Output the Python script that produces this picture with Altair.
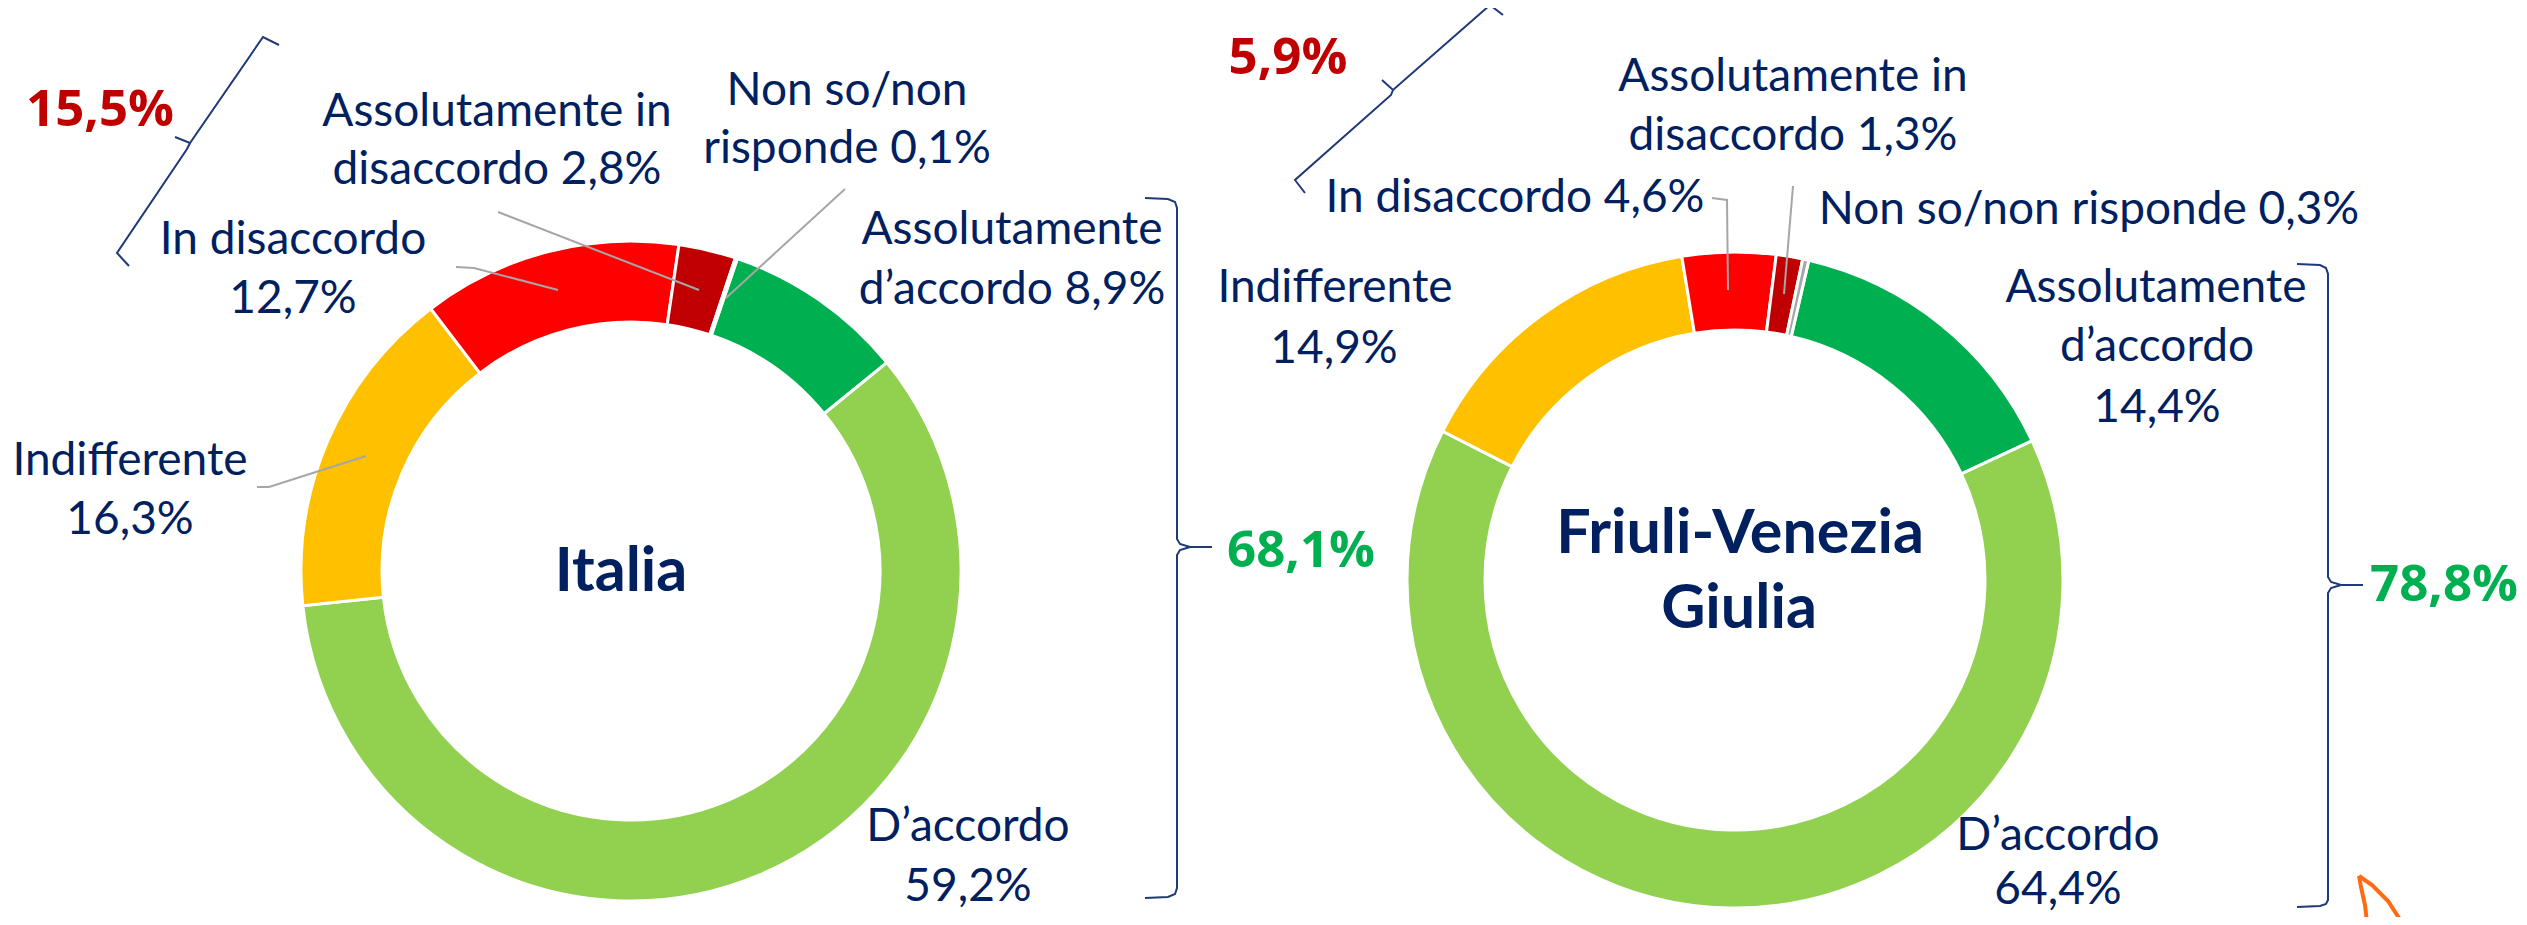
import math
import altair as alt
import pandas as pd

# ---------------- data ----------------
categories = ["Assolutamente d’accordo", "D’accordo", "Indifferente",
              "In disaccordo", "Assolutamente in disaccordo", "Non so/non risponde"]
italia_values = [8.9, 59.2, 16.3, 12.7, 2.8, 0.1]
friuli_values = [14.4, 64.4, 14.9, 4.6, 1.3, 0.3]
region_names = ["Italia", "Friuli-Venezia Giulia"]

# ---------------- styles ----------------
slice_colors = ["#00B050", "#92D050", "#FFC000", "#FF0000", "#C00000", "#A6A6A6"]
NAVY = "#002060"
RED = "#C00000"
GREEN = "#00B050"
BRACE = "#1F3A78"
LEADER = "#A6A6A6"

W, H = 2511, 909
xs = alt.Scale(domain=[8, 8 + W])
ys = alt.Scale(domain=[8, 8 + H], reverse=True)


def pct(v):
    return f"{v:.1f}".replace(".", ",") + "%"


def donut(values, start_deg, cx, cy, r_out, r_in):
    df = pd.DataFrame({"cat": categories, "v": values, "ord": list(range(len(values)))})
    a0 = math.radians(start_deg)
    return alt.Chart(df).mark_arc(
        outerRadius=r_out, innerRadius=r_in, stroke="white", strokeWidth=3
    ).encode(
        theta=alt.Theta("v:Q", stack=True,
                        scale=alt.Scale(domain=[0, sum(values)], range=[a0, a0 + 2 * math.pi], nice=False)),
        order=alt.Order("ord:Q"),
        color=alt.Color("cat:N", scale=alt.Scale(domain=categories, range=slice_colors), legend=None),
        x=alt.value(cx - 8),
        y=alt.value(cy - 8),
    )


it = italia_values
fr = friuli_values

# slice labels: (text, x-center, baseline)
label_rows = [
    ("Assolutamente in", 497, 126), ("disaccordo " + pct(it[4]), 497, 184),
    ("Non so/non", 847, 105), ("risponde " + pct(it[5]), 847, 163),
    ("In disaccordo", 293, 254), (pct(it[3]), 293, 313),
    ("Assolutamente", 1012, 244), ("d’accordo " + pct(it[0]), 1012, 304),
    ("Indifferente", 130, 475), (pct(it[2]), 130, 534),
    ("D’accordo", 968, 841), (pct(it[1]), 968, 901),
    ("Assolutamente in", 1793, 91), ("disaccordo " + pct(fr[4]), 1793, 150),
    ("In disaccordo " + pct(fr[3]), 1515, 212),
    ("Non so/non risponde " + pct(fr[5]), 2089, 224),
    ("Indifferente", 1335, 302), (pct(fr[2]), 1334, 363),
    ("Assolutamente", 2156, 302), ("d’accordo", 2157, 361), (pct(fr[0]), 2157, 422),
    ("D’accordo", 2058, 850), (pct(fr[1]), 2058, 904),
]
labels_df = pd.DataFrame(label_rows, columns=["t", "x", "y"])

title_rows = [("Italia", 621, 591), ("Friuli-Venezia", 1740, 553), ("Giulia", 1739, 628)]
titles_df = pd.DataFrame(title_rows, columns=["t", "x", "y"])

red_df = pd.DataFrame([(pct(it[3] + it[4]), 100, 126), (pct(fr[3] + fr[4]), 1288, 74)],
                      columns=["t", "x", "y"])
green_df = pd.DataFrame([(pct(it[0] + it[1]), 1301, 567), (pct(fr[0] + fr[1]), 2444, 601)],
                        columns=["t", "x", "y"])


def text_layer(df, size, color, weight, font):
    return alt.Chart(df).mark_text(
        fontSize=size, color=color, fontWeight=weight, font=font,
        align="center", baseline="alphabetic"
    ).encode(
        x=alt.X("x:Q", scale=xs, axis=None),
        y=alt.Y("y:Q", scale=ys, axis=None),
        text="t:N",
    )


def path_df(paths):
    rows = []
    for pid, pts in enumerate(paths):
        for i, (x, y) in enumerate(pts):
            rows.append({"id": pid, "i": i, "x": x, "y": y})
    return pd.DataFrame(rows)


def line_layer(paths, color, width, interp="linear"):
    return alt.Chart(path_df(paths)).mark_line(
        color=color, strokeWidth=width, interpolate=interp
    ).encode(
        x=alt.X("x:Q", scale=xs, axis=None),
        y=alt.Y("y:Q", scale=ys, axis=None),
        detail="id:N",
        order="i:Q",
    )


leader_paths = [
    [(498, 212), (699, 290)],
    [(845, 189), (726, 298)],
    [(456, 267), (474, 268), (558, 290)],
    [(257, 487), (269, 487), (366, 456)],
    [(1712, 198), (1727, 200), (1728, 290)],
    [(1793, 186), (1784, 294)],
]

brace_paths = [
    # Italia red (diagonal)
    [(279, 45), (263, 37), (190, 143), (175, 137)],
    [(190, 143), (187, 149), (117, 253), (129, 266)],
    # Friuli red (diagonal)
    [(1503, 15), (1490, 5), (1393, 90), (1382, 80)],
    [(1393, 90), (1391, 95), (1295, 180), (1305, 193)],
    # Italia green (vertical)
    [(1145, 198), (1168, 199), (1175, 202), (1177, 208), (1177, 539), (1180, 544), (1190, 547), (1212, 547)],
    [(1190, 547), (1180, 550), (1177, 555), (1177, 888), (1175, 894), (1168, 897), (1145, 898)],
    # Friuli green (vertical)
    [(2297, 264), (2320, 265), (2326, 268), (2328, 274), (2328, 577), (2331, 582), (2341, 585), (2363, 585)],
    [(2341, 585), (2331, 588), (2328, 593), (2328, 900), (2326, 904), (2320, 906), (2297, 907)],
]

orange_paths = [
    [(2369, 940), (2365, 905), (2361, 887), (2359, 876)],
    [(2359, 876), (2372, 885), (2388, 901), (2410, 935)],
]

LABEL_FONT = "Lato, 'Source Sans Pro', 'Noto Sans', sans-serif"
BOLD_FONT = "'Open Sans', 'DejaVu Sans', sans-serif"

chart = alt.layer(
    donut(italia_values, 18.8, 631, 571, 330, 249),
    donut(friuli_values, 13.0, 1735, 580, 328, 250),
    line_layer(leader_paths, LEADER, 2),
    line_layer(brace_paths, BRACE, 2),
    line_layer(orange_paths, "#FF6A13", 4),
    text_layer(labels_df, 46, NAVY, "normal", LABEL_FONT),
    text_layer(titles_df, 61, NAVY, "bold", LABEL_FONT),
    text_layer(red_df, 51, RED, "bold", BOLD_FONT),
    text_layer(green_df, 51, GREEN, "bold", BOLD_FONT),
).resolve_scale(
    theta="independent"
).properties(
    width=W, height=H,
    autosize=alt.AutoSizeParams(type="none"),
    padding=0,
    background="white",
).configure_view(stroke=None)

chart.save("out.html", embed_options={"renderer": "svg", "actions": False})
